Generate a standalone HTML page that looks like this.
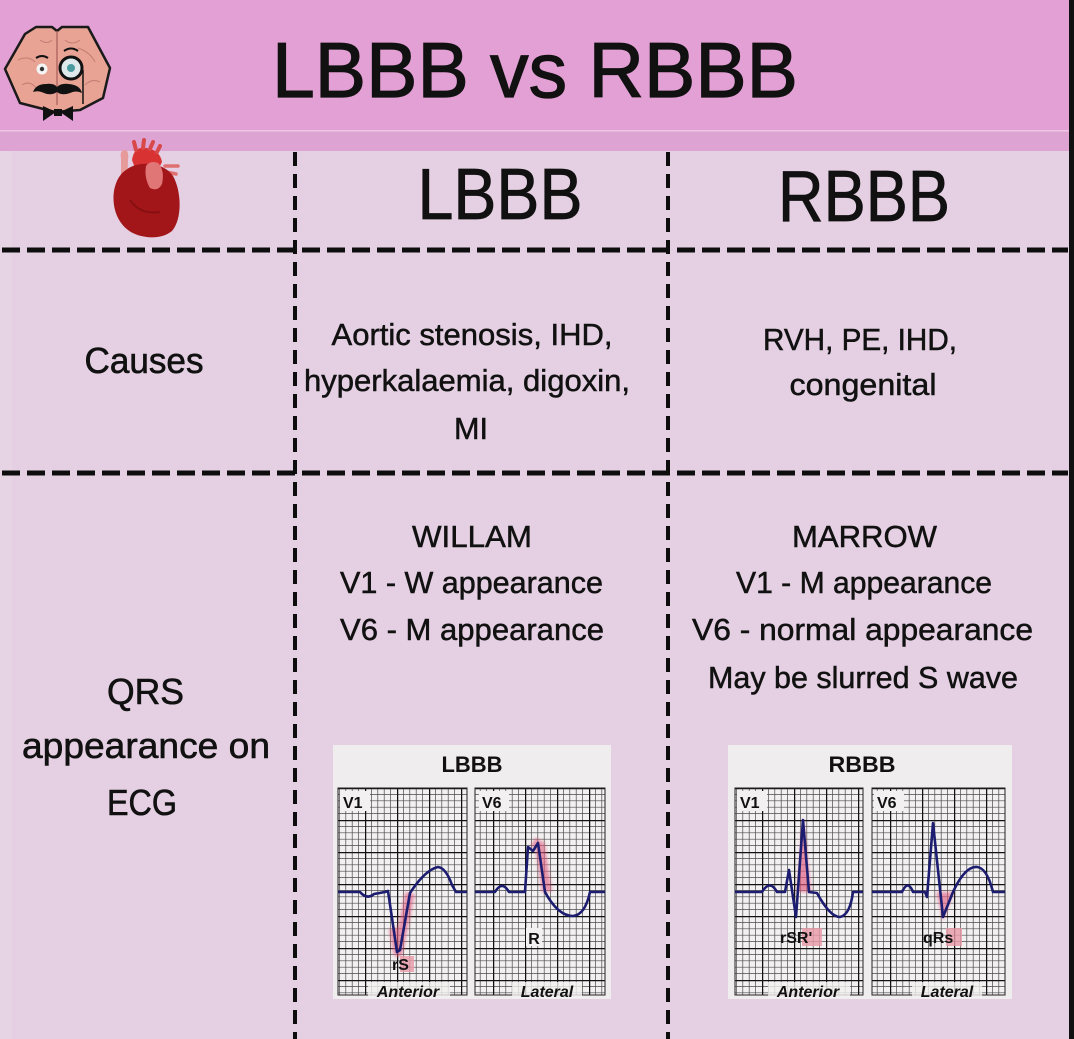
<!DOCTYPE html>
<html>
<head>
<meta charset="utf-8">
<style>
  html,body{margin:0;padding:0;background:#e4d0e2;}
  svg{display:block;}
  text{font-family:"Liberation Sans", sans-serif;fill:#111;}
</style>
</head>
<body>
<svg width="1074" height="1039" viewBox="0 0 1074 1039" xmlns="http://www.w3.org/2000/svg">
  <defs>
    <pattern id="grid" x="333" y="788" width="32" height="32" patternUnits="userSpaceOnUse">
      <rect width="32" height="32" fill="#f2f0f0"/>
      <path d="M6.4 0V32M12.8 0V32M19.2 0V32M25.6 0V32M0 6.4H32M0 12.8H32M0 19.2H32M0 25.6H32" stroke="#4a4a4a" stroke-width="0.7" fill="none"/>
      <path d="M0.5 0V32M0 0.5H32" stroke="#111" stroke-width="1.5" fill="none"/>
    </pattern>
    <pattern id="grid2" x="730" y="788" width="32" height="32" patternUnits="userSpaceOnUse">
      <rect width="32" height="32" fill="#f2f0f0"/>
      <path d="M6.4 0V32M12.8 0V32M19.2 0V32M25.6 0V32M0 6.4H32M0 12.8H32M0 19.2H32M0 25.6H32" stroke="#4a4a4a" stroke-width="0.7" fill="none"/>
      <path d="M0.5 0V32M0 0.5H32" stroke="#111" stroke-width="1.5" fill="none"/>
    </pattern>
    <filter id="blur" x="-50%" y="-50%" width="200%" height="200%"><feGaussianBlur stdDeviation="1.6"/></filter>
  </defs>

  <!-- body background -->
  <rect x="0" y="0" width="1074" height="1039" fill="#e4d0e2"/>
  <rect x="0" y="150" width="12" height="889" fill="#e6d3e4"/>

  <!-- header -->
  <rect x="0" y="0" width="1074" height="151" fill="#e3a0d4"/>
  <rect x="0" y="131" width="1074" height="20" fill="#dda4d3"/>
  <rect x="0" y="130" width="1074" height="1.5" fill="#f0c6e6"/>

  <!-- brain logo -->
  <g>
    <path d="M5 69 L25 34 L36 27 L52 27 L57 31 L62 27 L88 27 L110 68 L103 98 L80 110 L55 112 L20 103 Z" fill="#e8a394" stroke="#1a1a1a" stroke-width="2.5" stroke-linejoin="round"/>
    <path d="M57 31 L57 105" stroke="#b46a64" stroke-width="1.5"/>
    <path d="M18 60 Q28 55 35 62 M78 48 Q90 52 95 62 M22 85 Q30 80 36 88 M85 85 Q92 78 100 82 M40 40 Q47 45 52 40 M65 40 Q72 46 80 40" stroke="#c47c74" stroke-width="1" fill="none"/>
    <circle cx="42" cy="69" r="5.5" fill="#f4f4f4"/>
    <circle cx="42" cy="69" r="2.2" fill="#333"/>
    <circle cx="71" cy="68" r="11" fill="#dfe8ea" stroke="#111" stroke-width="3"/>
    <circle cx="71" cy="68" r="4" fill="#4a9aa0"/>
    <path d="M83 70 L83 104" stroke="#111" stroke-width="1.5"/>
    <path d="M36 58 Q42 54 48 58" stroke="#111" stroke-width="2" fill="none"/>
    <path d="M64 51 Q71 46 78 51" stroke="#111" stroke-width="2" fill="none"/>
    <path d="M33 92 Q36 84 46 84 Q54 83 57 87 Q61 83 69 84 Q80 85 82 93 Q76 90 70 93 Q62 96 57 92 Q51 96 44 93 Q38 90 33 92 Z" fill="#111"/>
    <path d="M43 106 L56 112 L43 121 Z M73 106 L60 112 L73 121 Z" fill="#111"/>
    <rect x="54" y="109" width="8" height="7" fill="#111"/>
  </g>

  <!-- title -->
  <text x="535" y="97" font-size="78" text-anchor="middle" textLength="526" lengthAdjust="spacingAndGlyphs" stroke="#111" stroke-width="1.2">LBBB vs RBBB</text>

  <!-- heart -->
  <g>
    <path d="M121 158 Q119 150 126 150 Q129 152 128 160 L127 190 L121 190 Z" fill="#e69a9a"/>
    <path d="M132 160 Q134 146 146 148 Q160 150 162 162 L158 170 L135 168 Z" fill="#d93232"/>
    <path d="M136 150 L134 142 M143 148 L144 140 M150 149 L153 142 M157 152 L160 146" stroke="#d84848" stroke-width="4" stroke-linecap="round"/>
    <path d="M165 166 L178 166 M166 172 L176 174" stroke="#e07070" stroke-width="3.5" stroke-linecap="round"/>
    <path d="M126 170 C 110 180, 108 215, 128 230 C 138 238, 160 241, 172 231 C 182 220, 182 192, 173 176 C 164 162, 138 160, 126 170 Z" fill="#a2161a"/>
    <path d="M146 166 Q150 160 158 163 Q165 170 162 184 Q158 192 150 188 Q144 178 146 166 Z" fill="#e07676"/>
    <path d="M130 200 Q140 215 160 212" stroke="#86100f" stroke-width="2" fill="none"/>
  </g>

  <!-- column headers -->
  <text x="500" y="219" font-size="72" text-anchor="middle" textLength="165" lengthAdjust="spacingAndGlyphs" stroke="#111" stroke-width="0.8">LBBB</text>
  <text x="864" y="221" font-size="72" text-anchor="middle" textLength="172" lengthAdjust="spacingAndGlyphs" stroke="#111" stroke-width="0.8">RBBB</text>

  <!-- dashed grid lines -->
  <g stroke="#0d0d0d" fill="none">
    <path d="M2 250 H1068" stroke-width="5" stroke-dasharray="18 7"/>
    <path d="M2 473 H1068" stroke-width="5" stroke-dasharray="18 7"/>
    <path d="M295 152 V1039" stroke-width="4" stroke-dasharray="14 8"/>
    <path d="M668 152 V1039" stroke-width="4" stroke-dasharray="14 8"/>
  </g>

  <!-- right black border -->
  <rect x="1069" y="0" width="5" height="1039" fill="#111"/>

  <!-- Causes row -->
  <text x="144" y="373" font-size="36" text-anchor="middle" textLength="119" lengthAdjust="spacingAndGlyphs" stroke="#111" stroke-width="0.6">Causes</text>
  <g font-size="31" text-anchor="middle" stroke="#111" stroke-width="0.5">
    <text x="472" y="345" textLength="281" lengthAdjust="spacingAndGlyphs">Aortic stenosis, IHD,</text>
    <text x="467" y="391" textLength="326" lengthAdjust="spacingAndGlyphs">hyperkalaemia, digoxin,</text>
    <text x="471" y="439" textLength="34" lengthAdjust="spacingAndGlyphs">MI</text>
    <text x="860" y="350" textLength="194" lengthAdjust="spacingAndGlyphs">RVH, PE, IHD,</text>
    <text x="863" y="395" textLength="147" lengthAdjust="spacingAndGlyphs">congenital</text>
  </g>

  <!-- QRS row -->
  <g font-size="36" text-anchor="middle" stroke="#111" stroke-width="0.6">
    <text x="145.5" y="704" textLength="77" lengthAdjust="spacingAndGlyphs">QRS</text>
    <text x="146" y="758" textLength="248" lengthAdjust="spacingAndGlyphs">appearance on</text>
    <text x="142" y="815" textLength="70" lengthAdjust="spacingAndGlyphs">ECG</text>
  </g>
  <g font-size="31" text-anchor="middle" stroke="#111" stroke-width="0.5">
    <text x="472" y="547" textLength="120" lengthAdjust="spacingAndGlyphs">WILLAM</text>
    <text x="471.5" y="593" textLength="263" lengthAdjust="spacingAndGlyphs">V1 - W appearance</text>
    <text x="472" y="640" textLength="264" lengthAdjust="spacingAndGlyphs">V6 - M appearance</text>
    <text x="864.5" y="547" textLength="145" lengthAdjust="spacingAndGlyphs">MARROW</text>
    <text x="864" y="593" textLength="256" lengthAdjust="spacingAndGlyphs">V1 - M appearance</text>
    <text x="862.5" y="640" textLength="341" lengthAdjust="spacingAndGlyphs">V6 - normal appearance</text>
    <text x="863" y="688" textLength="310" lengthAdjust="spacingAndGlyphs">May be slurred S wave</text>
  </g>

  <!-- LBBB ECG panel -->
  <g>
    <rect x="333" y="745" width="278" height="254" fill="#efeded"/>
    <rect x="338" y="788" width="129" height="207" fill="url(#grid)" stroke="#222" stroke-width="1"/>
    <rect x="475" y="788" width="130" height="207" fill="url(#grid)" stroke="#222" stroke-width="1"/>
    <text x="472" y="772" font-size="22" font-weight="bold" text-anchor="middle" textLength="61" lengthAdjust="spacingAndGlyphs">LBBB</text>
    <rect x="340" y="791" width="30" height="20" fill="#f2f0f0"/>
    <text x="343" y="808" font-size="16" font-weight="bold">V1</text>
    <rect x="479" y="791" width="30" height="20" fill="#f2f0f0"/>
    <text x="482" y="808" font-size="16" font-weight="bold">V6</text>
    <!-- highlights -->
    <path d="M394 928 L398 952 L410 893" stroke="#e0587e" stroke-width="10" fill="none" opacity="0.6" filter="url(#blur)" stroke-linejoin="round"/>
    <path d="M533 842 L540 846 L547 892" stroke="#e0587e" stroke-width="10" fill="none" opacity="0.6" filter="url(#blur)"/>
    <rect x="400" y="956" width="14" height="16" fill="#e89aa8" opacity="0.8"/>
    <!-- traces -->
    <path d="M338 892 L360 892 Q367 900 374 894 L385 892 L388 891 L397 952 L400 950 L410 893 Q425 870 438 867 Q446 868 452 885 L456 892 L467 892" stroke="#1c1c70" stroke-width="2.6" fill="none" stroke-linejoin="round"/>
    <path d="M475 892 L495 892 Q502 880 509 892 L525 892 L528 847 L533 851 L538 843 L545 892 Q558 916 573 916 Q585 915 590 892 L605 892" stroke="#1c1c70" stroke-width="2.6" fill="none" stroke-linejoin="round"/>
    <text x="392" y="970" font-size="16" font-weight="bold">rS</text>
    <rect x="526" y="928" width="16" height="18" fill="#f2f0f0"/>
    <text x="534" y="944" font-size="16" font-weight="bold" text-anchor="middle">R</text>
    <rect x="368" y="982" width="82" height="16" fill="#f2f0f0" opacity="0.8"/>
    <text x="408" y="997" font-size="16" font-weight="bold" font-style="italic" text-anchor="middle">Anterior</text>
    <rect x="512" y="982" width="70" height="16" fill="#f2f0f0" opacity="0.8"/>
    <text x="547" y="997" font-size="16" font-weight="bold" font-style="italic" text-anchor="middle">Lateral</text>
  </g>

  <!-- RBBB ECG panel -->
  <g>
    <rect x="728" y="745" width="284" height="254" fill="#efeded"/>
    <rect x="735" y="788" width="128" height="207" fill="url(#grid2)" stroke="#222" stroke-width="1"/>
    <rect x="872" y="788" width="133" height="207" fill="url(#grid2)" stroke="#222" stroke-width="1"/>
    <text x="862" y="772" font-size="22" font-weight="bold" text-anchor="middle" textLength="67" lengthAdjust="spacingAndGlyphs">RBBB</text>
    <rect x="737" y="791" width="30" height="20" fill="#f2f0f0"/>
    <text x="740" y="808" font-size="16" font-weight="bold">V1</text>
    <rect x="874" y="791" width="30" height="20" fill="#f2f0f0"/>
    <text x="877" y="808" font-size="16" font-weight="bold">V6</text>
    <!-- highlights -->
    <path d="M797 892 L803 816 L811 892 Z" fill="#e0587e" opacity="0.65" filter="url(#blur)"/>
    <path d="M936 892 L943 921 L954 892 Z" fill="#e0587e" opacity="0.6" filter="url(#blur)"/>
    <rect x="802" y="928" width="20" height="18" fill="#e89aa8" opacity="0.8"/>
    <rect x="946" y="928" width="16" height="18" fill="#e89aa8" opacity="0.8"/>
    <!-- traces -->
    <path d="M735 892 L762 892 Q770 879 777 892 L785 892 L789 870 L796 917 L803 820 L809 892 L817 893 Q830 917 840 917 Q850 915 853 892 L863 892" stroke="#1c1c70" stroke-width="2.6" fill="none" stroke-linejoin="round"/>
    <path d="M872 892 L902 892 Q908 879 913 892 L925 892 L927 897 L933 823 L943 917 L953 892 Q965 866 977 867 Q987 868 993 892 L1005 892" stroke="#1c1c70" stroke-width="2.6" fill="none" stroke-linejoin="round"/>
    <text x="780" y="943" font-size="16" font-weight="bold">rSR'</text>
    <text x="923" y="943" font-size="16" font-weight="bold">qRs</text>
    <rect x="768" y="982" width="82" height="16" fill="#f2f0f0" opacity="0.8"/>
    <text x="808" y="997" font-size="16" font-weight="bold" font-style="italic" text-anchor="middle">Anterior</text>
    <rect x="912" y="982" width="70" height="16" fill="#f2f0f0" opacity="0.8"/>
    <text x="947" y="997" font-size="16" font-weight="bold" font-style="italic" text-anchor="middle">Lateral</text>
  </g>
</svg>
</body>
</html>
